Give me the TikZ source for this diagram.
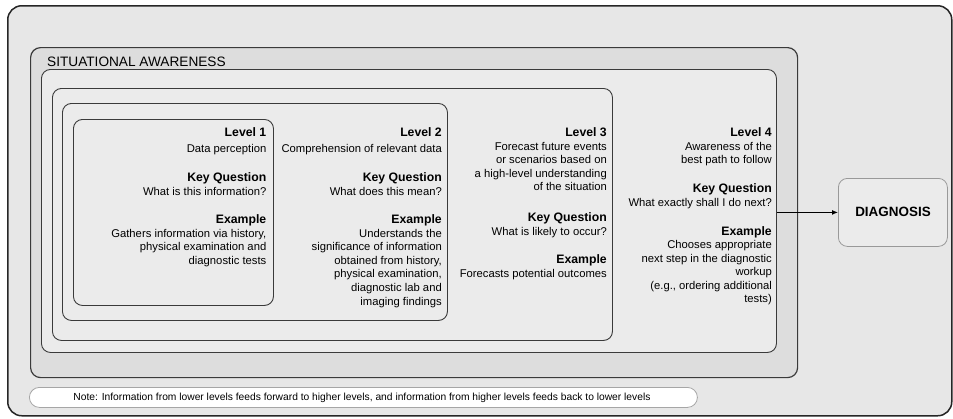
\documentclass[tikz,border=0pt]{standalone}
\usepackage{fontspec}
\setmainfont{Liberation Sans}
\usetikzlibrary{arrows.meta}
\definecolor{bgfill}{HTML}{E7E7E7}
\definecolor{safill}{HTML}{DDDDDD}
\definecolor{boxfill}{HTML}{EBEBEB}
\definecolor{edgecol}{HTML}{3A3A3A}
\newcommand{\rlines}[1]{\begin{tabular}[t]{@{}r@{}}#1\end{tabular}}
\begin{document}
\begin{tikzpicture}[x=1bp,y=-1bp,
  framebox/.style={draw=black!85, line width=1.5bp, fill=bgfill, rounded corners=14bp, inner sep=0, anchor=north west},
  sabox/.style={draw=edgecol, line width=1.2bp, fill=safill, rounded corners=10bp, inner sep=0, anchor=north west},
  lvlbox/.style={draw=edgecol, line width=0.9bp, fill=boxfill, rounded corners=9bp, inner sep=0, anchor=north west},
  diagbox/.style={draw=black!40, line width=0.8bp, fill=boxfill, rounded corners=9bp, inner sep=0, anchor=north west},
  notebox/.style={draw=black!35, line width=0.8bp, fill=white, rounded corners=10bp, inner sep=0, anchor=north west},
  ttl/.style={anchor=base east, inner sep=0, font=\fontsize{12.3}{14}\selectfont\bfseries},
  body/.style={anchor=base east, inner sep=0, font=\fontsize{11.3}{13.65}\selectfont},
  conn/.style={-{Latex[length=6bp,width=5bp]}, line width=1.1bp, black},
]
\useasboundingbox (0,0) rectangle (953,418);
% frames
\node[framebox, minimum width=944bp, minimum height=410bp] (frame) at (7,5) {};
\node[sabox, minimum width=767bp, minimum height=330bp] (sa) at (30,47) {};
\node[lvlbox, minimum width=735bp, minimum height=283bp] (l4) at (41,69) {};
\node[lvlbox, minimum width=560bp, minimum height=252bp] (l3) at (52,88) {};
\node[lvlbox, minimum width=385bp, minimum height=217bp] (l2) at (62,103) {};
\node[lvlbox, minimum width=200bp, minimum height=186bp] (l1) at (73,119) {};
\node[diagbox, minimum width=109bp, minimum height=68bp] (diag) at (838,178) {};
\node[notebox, minimum width=668bp, minimum height=20bp] (note) at (29,387) {};

% titles
\node[anchor=base west, inner sep=0, font=\fontsize{13.7}{15}\selectfont] (satitle) at (47,66.5) {SITUATIONAL AWARENESS};
\node[anchor=base, inner sep=0, font=\fontsize{13.5}{15}\selectfont\bfseries] (diagtxt) at (893,216.5) {DIAGNOSIS};
\node[anchor=base, inner sep=0, font=\fontsize{10.3}{12}\selectfont] (notetxt) at (362,400.5) {Note: Information from lower levels feeds forward to higher levels, and information from higher levels feeds back to lower levels};

% Level 1
\node[ttl] (l1t) at (266.5,136.5) {Level 1};
\node[body] (l1d) at (266.5,152) {Data perception};
\node[ttl] (l1k) at (266.5,181.5) {Key Question};
\node[body] (l1q) at (266.5,195.5) {What is this information?};
\node[ttl] (l1e) at (266.5,223.5) {Example};
\node[body] (l1x) at (266.5,237) {\rlines{Gathers information via history,\\physical examination and\\diagnostic tests}};

% Level 2
\node[ttl] (l2t) at (442,136.5) {Level 2};
\node[body] (l2d) at (442,152) {Comprehension of relevant data};
\node[ttl] (l2k) at (442,181.5) {Key Question};
\node[body] (l2q) at (442,195.5) {What does this mean?};
\node[ttl] (l2e) at (442,223.5) {Example};
\node[body] (l2x) at (442,237) {\rlines{Understands the\\significance of information\\obtained from history,\\physical examination,\\diagnostic lab and\\imaging findings}};

% Level 3
\node[ttl] (l3t) at (607,136.5) {Level 3};
\node[body] (l3d) at (607,150) {\rlines{Forecast future events\\or scenarios based on\\a high-level understanding\\of the situation}};
\node[ttl] (l3k) at (607,221) {Key Question};
\node[body] (l3q) at (607,235) {What is likely to occur?};
\node[ttl] (l3e) at (607,263.5) {Example};
\node[body] (l3x) at (607,277.5) {Forecasts potential outcomes};

% Level 4
\node[ttl] (l4t) at (772,136.5) {Level 4};
\node[body] (l4d) at (772,150) {\rlines{Awareness of the\\best path to follow}};
\node[ttl] (l4k) at (772,192) {Key Question};
\node[body] (l4q) at (772,206) {What exactly shall I do next?};
\node[ttl] (l4e) at (772,235) {Example};
\node[body] (l4x) at (772,248.5) {\rlines{Chooses appropriate\\next step in the diagnostic\\workup\\(e.g., ordering additional\\tests)}};

% connector
\draw[conn] (diag.west -| l4.east) -- (diag.west);
\end{tikzpicture}
\end{document}
